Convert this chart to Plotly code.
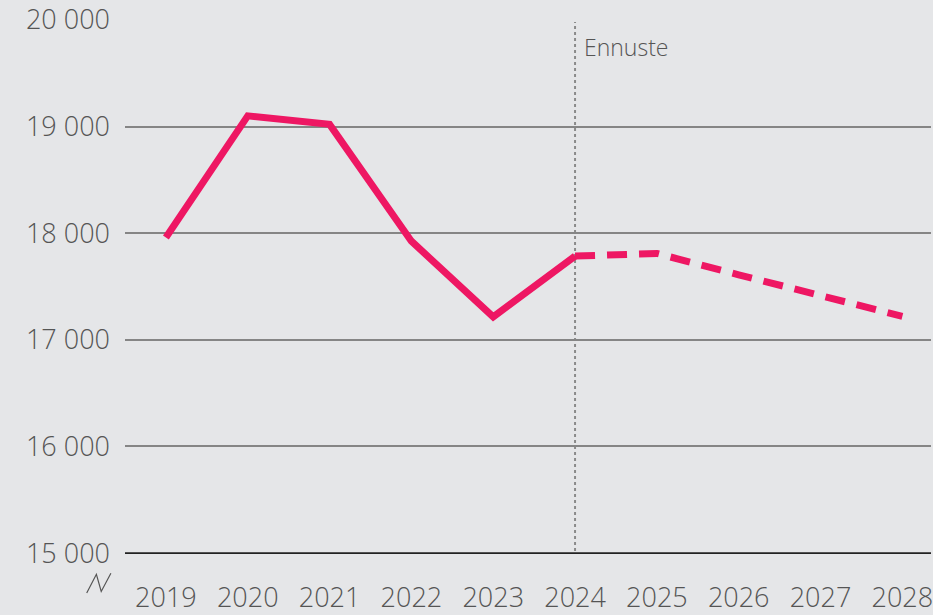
import plotly.graph_objects as go

years = [2019, 2020, 2021, 2022, 2023, 2024, 2025, 2026, 2027, 2028]
values = [17960, 19100, 19020, 17925, 17215, 17785, 17810, 17610, 17420, 17220]
actual_years = years[:6]
actual_values = values[:6]
forecast_years = years[5:]
forecast_values = values[5:]
y_ticks = [15000, 16000, 17000, 18000, 19000, 20000]
forecast_label = "Ennuste"

LINE = "#EE1763"
BG = "#E5E6E8"
TXT = "#555555"
FONT = "Open Sans"

fig = go.Figure()
fig.add_trace(go.Scatter(x=actual_years, y=actual_values, mode="lines",
                         line=dict(color=LINE, width=7), hoverinfo="skip"))
fig.add_trace(go.Scatter(x=forecast_years, y=forecast_values, mode="lines",
                         line=dict(color=LINE, width=7, dash="20px,12px"), hoverinfo="skip"))

fig.add_shape(type="line", x0=2024, x1=2024, y0=15020, y1=19980, xref="x", yref="y",
              line=dict(color="#8A8A8A", width=2, dash="dot"), layer="below")
fig.add_annotation(x=2024, y=19750, xref="x", yref="y", text=forecast_label, showarrow=False,
                   xanchor="left", xshift=7, font=dict(family=FONT, size=23, color=TXT, weight=300))

# axis break symbol
fig.add_shape(type="path", xref="paper", yref="paper",
              path="M -0.0475 -0.073 L -0.0355 -0.038 L -0.0295 -0.070 L -0.0175 -0.036",
              line=dict(color=TXT, width=1.2))

fig.update_layout(
    width=933, height=615,
    margin=dict(l=125, r=0, t=17, b=58),
    paper_bgcolor=BG, plot_bgcolor=BG,
    showlegend=False,
    separators=", ",
    font=dict(family=FONT, size=27, color=TXT, weight=300),
)
fig.update_xaxes(range=[2018.5, 2028.35], tickvals=years, ticktext=[str(y) for y in years],
                 showgrid=False, zeroline=False, showline=False, ticks="",
                 ticklabeloverflow="allow",
                 tickfont=dict(family=FONT, size=27, color=TXT, weight=300), ticklabelstandoff=25)
fig.update_yaxes(range=[14992, 20008], tickvals=y_ticks, tickformat=",d",
                 showgrid=True, gridcolor="#858585", gridwidth=2,
                 zeroline=False, showline=False, ticks="",
                 ticklabeloverflow="allow",
                 tickfont=dict(family=FONT, size=27, color=TXT, weight=300), ticklabelstandoff=14)
fig.add_shape(type="line", xref="paper", yref="y", x0=0, x1=1, y0=15000, y1=15000,
              line=dict(color="#222222", width=2))

fig.write_html("out.html", config={"displayModeBar": False},
               post_script="document.body.style.margin='0';document.body.style.overflow='hidden';")
